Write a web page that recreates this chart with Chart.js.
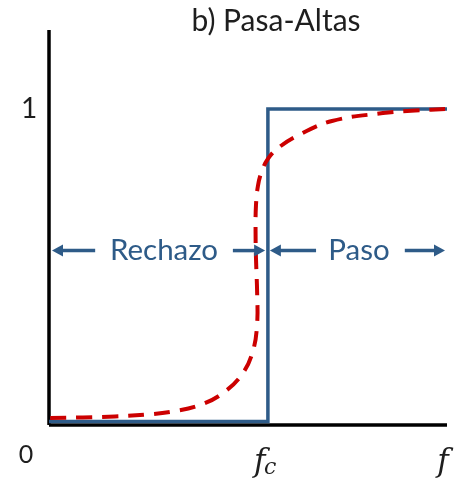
<!DOCTYPE html>
<html>
<head>
<meta charset="utf-8">
<script src="https://cdn.jsdelivr.net/npm/chart.js@4/dist/chart.umd.min.js"></script>
<style>
  body { margin: 0; background: #fff; }
  #wrap { width: 458px; height: 484px; position: relative; }
</style>
</head>
<body>
<div id="wrap"><canvas id="chart"></canvas></div>
<script>
// frequency axis runs 0..1, cutoff fc sits at 0.55
const fc = 0.55;
const yMax = 1.25;

// ideal high-pass response
const idealX = [0, fc, fc, 1];
const idealY = [0.011, 0.011, 1, 1];

// real (dashed) response
const realX = [0.003, 0.085, 0.166, 0.246, 0.312, 0.379, 0.437, 0.487, 0.513, 0.523, 0.523, 0.520, 0.519, 0.520, 0.525, 0.535, 0.550, 0.573, 0.623, 0.711, 0.839, 0.920, 1.0];
const realY = [0.022, 0.024, 0.027, 0.033, 0.043, 0.063, 0.101, 0.164, 0.237, 0.322, 0.416, 0.530, 0.615, 0.694, 0.757, 0.804, 0.842, 0.874, 0.915, 0.962, 0.987, 0.995, 1.0];

// tick labels
const xTickLabels = ['f', 'c', 'f'];
const yTickLabels = ['0', '1'];

// region arrows: [tail x, head x] at one height
const arrowY = 0.552;
const arrows = [[0.116, 0.0075], [0.462, 0.543], [0.671, 0.555], [0.894, 0.995]];
const regionNames = ['Rechazo', 'Paso'];
const regionX = [0.289, 0.779];

const blue = '#2E5B88';
const red = '#CC0000';

const toPts = (xs, ys) => xs.map((x, i) => ({ x: x, y: ys[i] }));

const labelsPlugin = {
  id: 'labels',
  afterDatasetsDraw(chart) {
    const ctx = chart.ctx;
    const xs = chart.scales.x;
    const ys = chart.scales.y;
    ctx.save();

    // title
    ctx.fillStyle = '#1e1e1e';
    ctx.font = '30px Lato';
    ctx.textAlign = 'center';
    ctx.textBaseline = 'middle';
    ctx.fillText('b) Pasa-Altas', 276, 21);

    // y ticks
    ctx.font = '28px Lato';
    ctx.fillText(yTickLabels[1], xs.getPixelForValue(0) - 20, ys.getPixelForValue(1));
    ctx.font = '25px Lato';
    ctx.fillText(yTickLabels[0], xs.getPixelForValue(0) - 23, ys.getPixelForValue(0) + 30);

    // x ticks (italic serif, fc with subscript)
    const base = ys.getPixelForValue(0) + 38;
    ctx.font = 'italic 31px "DejaVu Serif"';
    ctx.textAlign = 'left';
    ctx.fillText(xTickLabels[0], xs.getPixelForValue(fc) - 14, base);
    ctx.font = 'italic 22px "DejaVu Serif"';
    ctx.fillText(xTickLabels[1], xs.getPixelForValue(fc) - 4, base + 5);
    ctx.font = 'italic 31px "DejaVu Serif"';
    ctx.textAlign = 'center';
    ctx.fillText(xTickLabels[2], xs.getPixelForValue(1) - 4, base);

    // region arrows
    const py = ys.getPixelForValue(arrowY);
    ctx.strokeStyle = blue;
    ctx.fillStyle = blue;
    ctx.lineWidth = 3.5;
    arrows.forEach(a => {
      const x0 = xs.getPixelForValue(a[0]);
      const x1 = xs.getPixelForValue(a[1]);
      const dir = Math.sign(x1 - x0);
      ctx.beginPath();
      ctx.moveTo(x0, py);
      ctx.lineTo(x1 - dir * 8, py);
      ctx.stroke();
      ctx.beginPath();
      ctx.moveTo(x1, py);
      ctx.lineTo(x1 - dir * 11, py - 6);
      ctx.lineTo(x1 - dir * 11, py + 6);
      ctx.closePath();
      ctx.fill();
    });

    // region names
    ctx.font = '29.5px Lato';
    ctx.textAlign = 'center';
    regionNames.forEach((n, i) => {
      ctx.fillText(n, xs.getPixelForValue(regionX[i]), py);
    });
    ctx.restore();
  }
};

new Chart(document.getElementById('chart'), {
  type: 'scatter',
  data: {
    datasets: [
      {
        label: 'real',
        data: toPts(realX, realY),
        showLine: true,
        borderColor: red,
        borderWidth: 4,
        borderDash: [16, 10],
        tension: 0.4,
        pointRadius: 0,
        clip: false,
      },
      {
        label: 'ideal',
        data: toPts(idealX, idealY),
        showLine: true,
        borderColor: blue,
        borderWidth: 3.5,
        tension: 0,
        pointRadius: 0,
        clip: false,
      },
      {
        label: 'xaxis',
        data: [{ x: 0, y: 0 }, { x: 1, y: 0 }],
        showLine: true,
        borderColor: '#000',
        borderWidth: 3.5,
        pointRadius: 0,
        clip: false,
      },
      {
        label: 'yaxis',
        data: [{ x: 0, y: 0 }, { x: 0, y: yMax }],
        showLine: true,
        borderColor: '#000',
        borderWidth: 3.5,
        pointRadius: 0,
        clip: false,
      },
    ],
  },
  options: {
    responsive: true,
    maintainAspectRatio: false,
    animation: false,
    layout: { padding: { left: 49, right: 11, top: 30, bottom: 59 } },
    scales: {
      x: { type: 'linear', min: 0, max: 1, display: false },
      y: { min: 0, max: yMax, display: false },
    },
    plugins: {
      legend: { display: false },
      tooltip: { enabled: false },
    },
  },
  plugins: [labelsPlugin],
});
</script>
</body>
</html>
